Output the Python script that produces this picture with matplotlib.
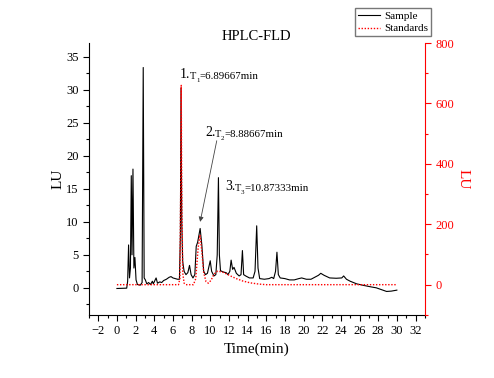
import matplotlib
matplotlib.use("Agg")
import matplotlib.pyplot as plt
from matplotlib.ticker import MultipleLocator

plt.rcParams['font.family'] = ['Liberation Serif', 'DejaVu Serif']

# sample trace (left axis, LU)
sample_t = [0.0, 1.05, 1.15, 1.25, 1.35, 1.45, 1.54, 1.62, 1.72, 1.82, 1.93, 2.05,
            2.2, 2.5, 2.7, 2.82, 2.92, 3.05, 3.2, 3.4, 3.6, 3.8, 3.9, 4.2, 4.35,
            4.6, 4.8, 5.0, 5.3, 5.6, 5.8, 6.0, 6.5, 6.7, 6.8, 6.87, 6.95, 7.05,
            7.2, 7.4, 7.6, 7.78, 7.95, 8.15, 8.35, 8.5, 8.65, 8.92, 9.1, 9.3,
            9.5, 9.7, 10.0, 10.15, 10.4, 10.6, 10.75, 10.88, 10.98, 11.1, 11.4,
            11.7, 11.9, 12.1, 12.24, 12.4, 12.55, 12.8, 13.1, 13.3, 13.45, 13.58,
            13.8, 14.2, 14.6, 14.8, 14.98, 15.12, 15.3, 15.8, 16.3, 16.6, 16.8,
            17.0, 17.15, 17.3, 17.5, 18.0, 18.5, 19.0, 19.5, 19.8, 20.3, 20.8,
            21.2, 21.6, 21.85, 22.2, 22.8, 23.5, 24.1, 24.3, 24.6, 25.0, 25.7,
            26.5, 27.2, 27.8, 28.4, 28.9, 29.4, 30.0]
sample_lu = [-0.1, -0.05, 1.0, 6.5, 1.5, 3.0, 17.0, 5.0, 18.0, 3.0, 4.6, 1.2,
             0.5, 0.4, 0.8, 33.4, 1.5, 1.2, 0.6, 0.8, 0.5, 1.0, 0.6, 1.5, 0.7,
             0.9, 0.8, 1.1, 1.3, 1.6, 1.7, 1.5, 1.3, 1.3, 8.0, 30.3, 10.0, 4.0,
             2.5, 2.0, 2.3, 3.4, 2.0, 1.5, 2.0, 6.3, 6.9, 9.0, 6.5, 2.5,
             2.0, 2.2, 4.1, 2.5, 1.8, 2.0, 5.0, 16.7, 5.0, 2.6, 2.4,
             2.3, 2.0, 2.5, 4.2, 2.8, 3.1, 2.2, 1.8, 2.0, 5.65, 2.0,
             1.8, 1.5, 1.5, 2.5, 9.4, 3.0, 1.4, 1.3, 1.4, 1.6, 1.4,
             2.5, 5.4, 2.0, 1.5, 1.4, 1.2, 1.2, 1.4, 1.5, 1.3, 1.3,
             1.6, 1.9, 2.2, 1.9, 1.5, 1.45, 1.5, 1.8, 1.3, 1.0, 0.6,
             0.35, 0.15, 0.0, -0.3, -0.55, -0.5, -0.35]

# standards trace (right axis, LU)
std_t = [0.0, 6.6, 6.75, 6.83, 6.89, 6.95, 7.05, 7.2, 7.4, 8.2, 8.45, 8.7, 8.9,
         9.1, 9.3, 9.55, 9.8, 10.1, 10.4, 10.8, 11.3, 11.8, 12.3, 12.8, 13.5,
         14.3, 15.2, 16.0, 30.0]
std_lu = [0, 0, 20, 300, 660, 300, 40, 5, 0, 0, 20, 120, 165,
          110, 40, 10, 5, 15, 35, 45, 42, 35, 27, 20, 12,
          6, 2, 0, 0]

x_ticks = list(range(-2, 33, 2))
left_ticks = [0, 5, 10, 15, 20, 25, 30, 35]
right_ticks = [0, 200, 400, 600, 800]

# peak labels: number, subscript, retention time, anchor position
peak_nums = ['1.', '2.', '3.']
peak_subs = ['1', '2', '3']
peak_times = ['=6.89667min', '=8.88667min', '=10.87333min']
peak_pos = [(6.78, 31.4), (9.45, 22.5), (11.6, 14.4)]

fig = plt.figure(figsize=(4.94, 3.78), dpi=100)
ax = fig.add_axes([0.180, 0.167, 0.680, 0.719])
ax2 = ax.twinx()

l1, = ax.plot(sample_t, sample_lu, color='black', lw=0.8, label='Sample')
l2, = ax2.plot(std_t, std_lu, color='red', lw=1.0, ls=(0, (1, 1.2)), label='Standards')

ax.set_xlim(-3, 33)
ax.set_ylim(-4.1, 37.1)
ax2.set_ylim(-100, 800)
ax.set_xticks(x_ticks)
ax.set_yticks(left_ticks)
ax2.set_yticks(right_ticks)
ax.xaxis.set_minor_locator(MultipleLocator(1))
ax.yaxis.set_minor_locator(MultipleLocator(2.5))
ax2.yaxis.set_minor_locator(MultipleLocator(100))

for s in ['top', 'right']:
    ax.spines[s].set_visible(False)
ax2.spines['top'].set_visible(False)
ax2.spines['left'].set_visible(False)
ax2.spines['bottom'].set_visible(False)
ax2.spines['right'].set_color('red')

ax.tick_params(which='major', direction='out', length=4, width=0.8, labelsize=9)
ax.tick_params(which='minor', direction='out', length=2.5, width=0.8)
ax2.tick_params(which='major', direction='out', length=4, width=0.8, labelsize=9,
                colors='red')
ax2.tick_params(which='minor', direction='out', length=2.5, width=0.8, colors='red')

ax.set_xlabel('Time(min)', fontsize=11, labelpad=4)
ax.set_ylabel('LU', fontsize=11, labelpad=1)
ax2.set_ylabel('LU', fontsize=11, color='red', rotation=270, labelpad=11)
ax.set_title('HPLC-FLD', fontsize=10.5, pad=0)

# "1.T1=..." built from pieces: big number, small T, subscript, time
for num, sub, tm, (px, py) in zip(peak_nums, peak_subs, peak_times, peak_pos):
    t_num = ax.text(px, py, num, fontsize=10, va='bottom')
    t_T = ax.annotate('T', xy=(1, 0), xycoords=t_num, xytext=(-0.5, 0),
                      textcoords='offset points', fontsize=7.5, va='bottom')
    t_sub = ax.annotate(sub, xy=(1, 0), xycoords=t_T, xytext=(0, -1.5),
                        textcoords='offset points', fontsize=5, va='bottom')
    ax.annotate(tm, xy=(1, 0), xycoords=(t_sub, t_T), xytext=(0, 0),
                textcoords='offset points', fontsize=7.8, va='bottom')

ax.annotate('', xy=(8.92, 10.0), xytext=(10.7, 22.3),
            arrowprops=dict(arrowstyle='-|>', color='#444444', lw=0.6,
                            mutation_scale=7, shrinkA=0, shrinkB=0))

fig.legend(handles=[l1, l2], loc='upper left', bbox_to_anchor=(0.719, 0.978),
           fontsize=8, frameon=True, fancybox=False, edgecolor='#555555',
           handlelength=2.0, handletextpad=0.4, borderpad=0.25, labelspacing=0.25,
           borderaxespad=0)

fig.savefig('out.png', dpi=100)
